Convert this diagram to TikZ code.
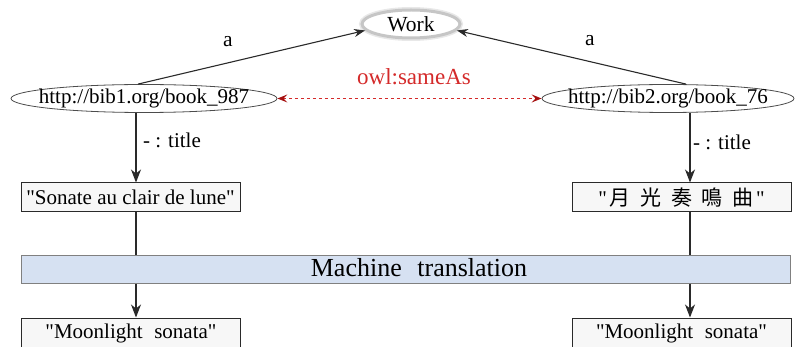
\documentclass[tikz,border=0pt]{standalone}
\usepackage{fontspec}
\setmainfont{Liberation Serif}
\newfontfamily\cjkfont{Noto Sans CJK TC}
\usetikzlibrary{arrows.meta,shapes.geometric,calc}
\newcommand\dq{\XeTeXglyph\XeTeXcharglyph"22\relax}
\definecolor{linegray}{HTML}{2A2A2A}
\definecolor{boxfill}{HTML}{F7F7F7}
\definecolor{mtfill}{HTML}{D6E1F2}
\definecolor{owlred}{HTML}{D42A2A}
\definecolor{tipred}{HTML}{A50F0F}
\tikzset{
  base/.style={font=\fontsize{21}{24}\selectfont},
  uri/.style={base, ellipse, draw=black!70, line width=0.8pt, fill=white, inner sep=0pt},
  classnode/.style={ellipse, draw=gray!45, line width=3pt, fill=white, inner sep=0pt,
     preaction={draw=gray!18, line width=6pt},
     font=\fontsize{21.5}{25}\selectfont},
  litbox/.style={base, rectangle, draw=linegray, line width=1pt, fill=boxfill, inner sep=0pt,
     minimum width=219pt, minimum height=29pt},
  mtbox/.style={rectangle, draw=black!50, line width=1pt, fill=mtfill, inner sep=0pt,
     minimum width=769pt, minimum height=28pt},
  conn/.style={draw=linegray, line width=1.1pt},
  bigtip/.style={-{Stealth[length=13pt,width=10pt,inset=4pt]}},
  smalltip/.style={-{Stealth[length=11pt,width=8pt,inset=3.5pt]}},
  sameas/.style={draw=owlred, line width=0.9pt, dash pattern=on 3pt off 3pt,
     {Stealth[length=10pt,width=8pt,inset=4pt,color=tipred]}-{Stealth[length=10pt,width=8pt,inset=4pt,color=tipred]}},
  lbl/.style={base, inner sep=0pt},
}
\begin{document}
\begin{tikzpicture}[x=1pt,y=-1pt]
\useasboundingbox (0,0) rectangle (797,347);
% nodes
\node[classnode, minimum width=98pt, minimum height=28pt] (W) at (411,24) {\makebox[0pt]{Work}};
\node[uri, minimum width=266pt, minimum height=28pt] (L) at (144,98.5) {\makebox[0pt]{http://bib1.org/book\_987}};
\node[uri, minimum width=252pt, minimum height=28pt] (R) at (668,98.5) {\makebox[0pt]{http://bib2.org/book\_76}};
\node[litbox] (SL) at (130.5,197.5) {\dq Sonate au clair de lune\dq};
\node[litbox] (SR) at (681.5,197.5) {\dq\hspace{2pt}{\cjkfont\fontsize{21}{24}\selectfont 月\hspace{10pt}光\hspace{10pt}奏\hspace{10pt}鳴\hspace{10pt}曲}\hspace{2pt}\dq};
\node[mtbox] (MT) at (405.5,269) {};
\node[base, font=\fontsize{26}{30}\selectfont, inner sep=0pt] (MTtext) at (419,268) {Machine\hspace{0.35em} translation};
\node[litbox, minimum height=30pt] (ML) at (131,333) {\dq Moonlight\hspace{0.3em} sonata\dq};
\node[litbox, minimum height=30pt] (MR) at (681.5,333) {\dq Moonlight\hspace{0.3em} sonata\dq};
% x positions of vertical connectors
\coordinate (xl) at (136,0);
\coordinate (xr) at (690,0);
% type arrows
\draw[conn, smalltip] ($(L.north)+(-6,0)$) -- (W.188);
\draw[conn, smalltip] ($(R.north)+(18,0)$) -- (W.352);
\node[lbl, font=\fontsize{21.5}{25}\selectfont] (a1) at (228,42) {a};
\node[lbl, font=\fontsize{21.5}{25}\selectfont] (a2) at (590,41) {a};
% sameAs
\draw[sameas] (L.east) -- (R.west);
\node[lbl, text=owlred, font=\fontsize{23}{27}\selectfont] (sa) at (414,77) {owl:sameAs};
% title arrows
\draw[conn, bigtip] (L.south -| xl) -- (SL.north -| xl);
\draw[conn, bigtip] (R.south -| xr) -- (SR.north -| xr);
\node[lbl] (t1) at (172,140) {- : title};
\node[lbl] (t2) at (722,142) {- : title};
% to machine translation
\draw[conn] (SL.south -| xl) -- (MT.north -| xl);
\draw[conn] (SR.south -| xr) -- (MT.north -| xr);
\draw[conn, bigtip] (MT.south -| xl) -- (ML.north -| xl);
\draw[conn, bigtip] (MT.south -| xr) -- (MR.north -| xr);
\end{tikzpicture}
\end{document}
